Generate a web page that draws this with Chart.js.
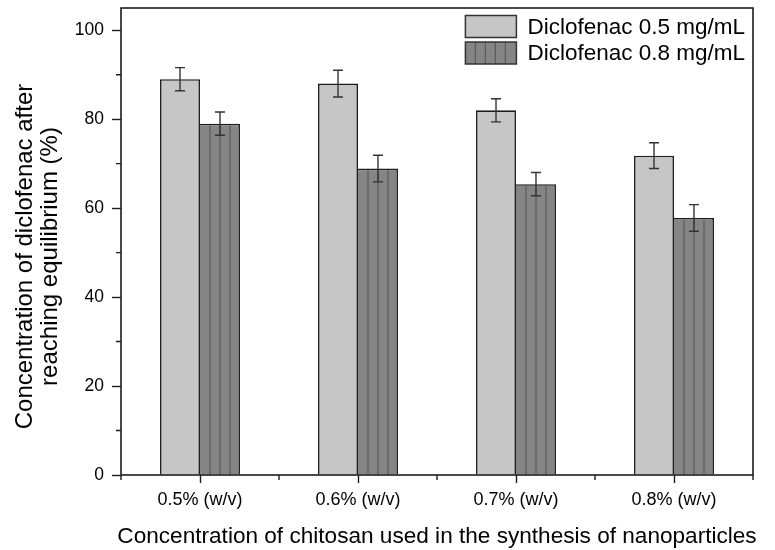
<!DOCTYPE html>
<html>
<head>
<meta charset="utf-8">
<script src="https://cdn.jsdelivr.net/npm/chart.js@4.4.1/dist/chart.umd.min.js"></script>
<style>
  html, body { margin: 0; padding: 0; background: #ffffff; }
  #wrap { width: 775px; height: 550px; position: relative; }
</style>
</head>
<body>
<div id="wrap"><canvas id="chart"></canvas></div>
<script>
// Chitosan concentrations on the x axis
const categories = ['0.5% (w/v)', '0.6% (w/v)', '0.7% (w/v)', '0.8% (w/v)'];
// Series names
const seriesLabels = ['Diclofenac 0.5 mg/mL', 'Diclofenac 0.8 mg/mL'];
// Mean diclofenac concentration at equilibrium (%)
const values05 = [89, 88, 82, 71.8];
const values08 = [79, 68.9, 65.4, 57.8];
// Error bar half-heights (%)
const errors05 = [2.6, 3.0, 2.6, 2.9];
const errors08 = [2.6, 3.0, 2.6, 3.0];
// Labelled y ticks
const yTicks = [0, 20, 40, 60, 80, 100];
const yMax = 105;
const xTitle = 'Concentration of chitosan used in the synthesis of nanoparticles';
const yTitle = ['Concentration of diclofenac after', 'reaching equilibrium (%)'];

const FONT = "'Liberation Sans', Arial, Helvetica, sans-serif";
const INK = '#1c1c1c';
const LIGHT = '#c6c6c6';
const DARK = '#858585';
const HATCH = '#5a5a5a';
const HATCH_STEP = 10;

function hatch(ctx, left, right, top, bottom) {
  ctx.save();
  ctx.strokeStyle = HATCH;
  ctx.lineWidth = 1.2;
  for (let hx = left + HATCH_STEP; hx < right - 2; hx += HATCH_STEP) {
    ctx.beginPath();
    ctx.moveTo(hx, top);
    ctx.lineTo(hx, bottom);
    ctx.stroke();
  }
  ctx.restore();
}

// Hatching, error bars, plot frame, minor ticks, axis titles and legend
const decor = {
  id: 'decor',
  afterDatasetsDraw(chart) {
    const ctx = chart.ctx;
    const yScale = chart.scales.y;
    // vertical hatching on the 0.8 mg/mL bars
    chart.getDatasetMeta(1).data.forEach(bar => {
      const p = bar.getProps(['x', 'y', 'base', 'width'], true);
      const left = p.x - p.width / 2;
      hatch(ctx, left, left + p.width, p.y + 1.5, p.base);
    });
    // error bars
    const errs = [errors05, errors08];
    chart.data.datasets.forEach((ds, i) => {
      chart.getDatasetMeta(i).data.forEach((bar, j) => {
        const x = bar.getProps(['x'], true).x;
        const v = ds.data[j];
        const yTop = yScale.getPixelForValue(v + errs[i][j]);
        const yBot = yScale.getPixelForValue(v - errs[i][j]);
        ctx.save();
        ctx.strokeStyle = '#333333';
        ctx.lineWidth = 1.4;
        ctx.beginPath();
        ctx.moveTo(x, yTop); ctx.lineTo(x, yBot);
        ctx.moveTo(x - 5, yTop); ctx.lineTo(x + 5, yTop);
        ctx.moveTo(x - 5, yBot); ctx.lineTo(x + 5, yBot);
        ctx.stroke();
        ctx.restore();
      });
    });
  },
  afterDraw(chart) {
    const ctx = chart.ctx;
    const a = chart.chartArea;
    const xs = chart.scales.x;
    const ys = chart.scales.y;
    ctx.save();
    // frame around the plot
    ctx.strokeStyle = INK;
    ctx.lineWidth = 1.6;
    ctx.strokeRect(a.left, a.top, a.right - a.left, a.bottom - a.top);
    // minor ticks: y midway between labelled ticks, x at category boundaries
    ctx.lineWidth = 1.4;
    ctx.beginPath();
    for (let i = 0; i < yTicks.length - 1; i++) {
      const py = ys.getPixelForValue((yTicks[i] + yTicks[i + 1]) / 2);
      ctx.moveTo(a.left, py); ctx.lineTo(a.left - 5, py);
    }
    for (let i = 0; i <= categories.length; i++) {
      const px = xs.getPixelForValue(i - 0.5);
      ctx.moveTo(px, a.bottom); ctx.lineTo(px, a.bottom + 5);
    }
    ctx.stroke();

    // x axis title, centred under the plot
    ctx.fillStyle = '#000000';
    ctx.font = '22.6px ' + FONT;
    ctx.textAlign = 'center';
    ctx.textBaseline = 'alphabetic';
    ctx.fillText(xTitle, (a.left + a.right) / 2, a.bottom + 68);

    // y axis title (two centred lines)
    ctx.font = '24px ' + FONT;
    const cy = (a.top + a.bottom) / 2 + 15;
    ctx.translate(0, cy);
    ctx.rotate(-Math.PI / 2);
    ctx.fillText(yTitle[0], 0, a.left - 89);
    ctx.fillText(yTitle[1], 0, a.left - 64);
    ctx.setTransform(1, 0, 0, 1, 0, 0);

    // legend in the top-right corner of the plot
    ctx.font = '22.5px ' + FONT;
    const textW = Math.max(...seriesLabels.map(t => ctx.measureText(t).width));
    const boxW = 51, boxH = 22, gap = 11, rowH = 26.5;
    const textX = a.right - 8 - textW;
    const boxX = textX - gap - boxW;
    const fills = [LIGHT, DARK];
    seriesLabels.forEach((label, i) => {
      const midY = a.top + 18.5 + i * rowH;
      const by = midY - boxH / 2;
      ctx.fillStyle = fills[i];
      ctx.fillRect(boxX, by, boxW, boxH);
      if (i === 1) hatch(ctx, boxX, boxX + boxW, by, by + boxH);
      ctx.strokeStyle = '#333333';
      ctx.lineWidth = 1.5;
      ctx.strokeRect(boxX, by, boxW, boxH);
      ctx.fillStyle = '#000000';
      ctx.textAlign = 'left';
      ctx.textBaseline = 'middle';
      ctx.fillText(label, textX, midY + 1);
    });
    ctx.restore();
  }
};

new Chart(document.getElementById('chart'), {
  type: 'bar',
  data: {
    labels: categories,
    datasets: [
      {
        label: seriesLabels[0],
        data: values05,
        backgroundColor: LIGHT,
        borderColor: INK,
        borderWidth: 1.6,
        borderSkipped: 'start'
      },
      {
        label: seriesLabels[1],
        data: values08,
        backgroundColor: DARK,
        borderColor: INK,
        borderWidth: { top: 1.6, right: 1.6, left: 0, bottom: 0 },
        borderSkipped: 'start'
      }
    ]
  },
  options: {
    responsive: true,
    maintainAspectRatio: false,
    animation: false,
    layout: { padding: { top: 8, right: 22, left: 0, bottom: 0 } },
    datasets: { bar: { categoryPercentage: 0.506, barPercentage: 1.0 } },
    plugins: {
      legend: { display: false },
      tooltip: { enabled: false }
    },
    scales: {
      x: {
        offset: true,
        grid: {
          offset: false,
          drawOnChartArea: false,
          drawTicks: true,
          tickLength: 8,
          tickWidth: 1.4,
          tickColor: INK
        },
        border: { display: false },
        ticks: {
          color: '#000000',
          padding: 6,
          maxRotation: 0,
          font: { family: FONT, size: 18 }
        },
        afterFit(scale) {
          scale.height = 75;
          scale.paddingLeft = 0;
          scale.paddingRight = 0;
        }
      },
      y: {
        min: 0,
        max: yMax,
        grid: {
          drawOnChartArea: false,
          drawTicks: true,
          tickLength: 9,
          tickWidth: 1.4,
          tickColor: INK
        },
        border: { display: false },
        afterBuildTicks(scale) { scale.ticks = yTicks.map(v => ({ value: v })); },
        ticks: {
          color: '#000000',
          padding: 8,
          font: { family: FONT, size: 17.5 }
        },
        afterFit(scale) {
          scale.width = 121;
          scale.paddingTop = 0;
          scale.paddingBottom = 0;
        }
      }
    }
  },
  plugins: [decor]
});
</script>
</body>
</html>
